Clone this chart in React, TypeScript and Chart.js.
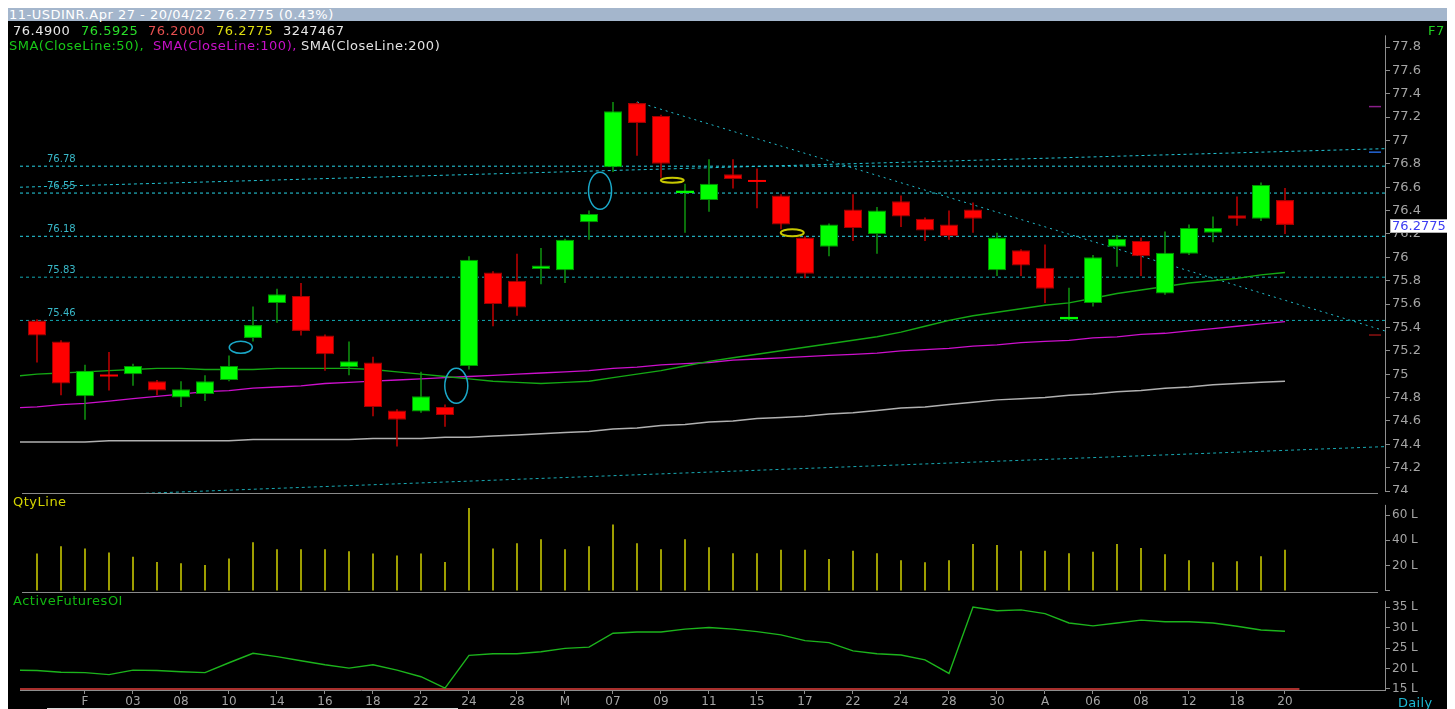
import React, { useEffect, useRef } from "react";
import { Chart, registerables } from "chart.js";

Chart.register(...registerables);

// ---------------- data ----------------
const candleOpen = [75.46, 75.28, 74.81, 74.99, 75.0, 74.94, 74.8, 74.83, 74.95, 75.31, 75.61, 75.67, 75.33, 75.06, 75.1, 74.69, 74.68, 74.72, 75.07, 75.87, 75.8, 75.9, 75.89, 76.3, 76.77, 77.32, 77.21, 76.55, 76.49, 76.71, 76.655, 76.53, 76.17, 76.09, 76.41, 76.2, 76.48, 76.33, 76.28, 76.41, 75.89, 76.06, 75.91, 75.47, 75.61, 76.09, 76.14, 75.69, 76.03, 76.21, 76.36, 76.33, 76.49];
const candleHigh = [75.47, 75.29, 75.08, 75.19, 75.09, 74.95, 74.94, 74.99, 75.16, 75.58, 75.73, 75.78, 75.34, 75.28, 75.15, 74.7, 75.02, 74.74, 76.01, 75.88, 76.03, 76.08, 76.16, 76.4, 77.33, 77.33, 77.22, 76.63, 76.84, 76.84, 76.76, 76.54, 76.18, 76.29, 76.54, 76.43, 76.53, 76.34, 76.4, 76.47, 76.21, 76.07, 76.11, 75.74, 76.02, 76.19, 76.17, 76.22, 76.28, 76.35, 76.52, 76.64, 76.5925];
const candleLow = [75.1, 74.82, 74.61, 74.86, 74.9, 74.82, 74.72, 74.77, 74.94, 75.28, 75.44, 75.33, 75.03, 74.99, 74.64, 74.38, 74.67, 74.55, 75.04, 75.41, 75.5, 75.77, 75.78, 76.15, 76.73, 76.87, 76.68, 76.21, 76.39, 76.59, 76.42, 76.24, 75.82, 76.01, 76.14, 76.03, 76.26, 76.14, 76.15, 76.21, 75.84, 75.84, 75.61, 75.46, 75.58, 75.92, 75.84, 75.68, 76.02, 76.13, 76.27, 76.31, 76.2];
const candleClose = [75.33, 74.92, 75.03, 74.98, 75.07, 74.86, 74.87, 74.94, 75.07, 75.42, 75.685, 75.37, 75.17, 75.11, 74.72, 74.61, 74.81, 74.65, 75.98, 75.6, 75.57, 75.93, 76.15, 76.37, 77.25, 77.15, 76.8, 76.57, 76.63, 76.67, 76.645, 76.28, 75.86, 76.28, 76.25, 76.4, 76.35, 76.23, 76.18, 76.33, 76.17, 75.93, 75.73, 75.49, 76.0, 76.16, 76.01, 76.04, 76.25, 76.25, 76.33, 76.62, 76.2775];

const volumeLakh = [29.6, 35.3, 33.5, 30.4, 27.0, 22.9, 22.0, 20.5, 25.7, 38.4, 33.0, 33.0, 33.0, 31.4, 29.6, 28.0, 29.6, 22.9, 65.5, 33.5, 37.7, 40.8, 33.0, 35.3, 52.5, 37.7, 33.0, 40.8, 34.5, 29.9, 29.9, 32.5, 32.5, 25.2, 31.7, 29.9, 24.2, 22.6, 24.2, 37.1, 36.4, 31.7, 31.7, 29.9, 30.9, 37.1, 34.0, 29.1, 24.2, 22.6, 23.4, 27.5, 32.5];

// line series start one session before the first visible candle
const lineStartIndex = -1;
const sma50 = [74.98, 75.0, 75.01, 75.02, 75.03, 75.04, 75.05, 75.05, 75.04, 75.04, 75.04, 75.05, 75.05, 75.05, 75.05, 75.04, 75.02, 75.0, 74.98, 74.96, 74.94, 74.93, 74.92, 74.93, 74.94, 74.97, 75.0, 75.03, 75.07, 75.11, 75.14, 75.17, 75.2, 75.23, 75.26, 75.29, 75.32, 75.36, 75.41, 75.46, 75.5, 75.53, 75.56, 75.59, 75.61, 75.65, 75.69, 75.72, 75.75, 75.78, 75.8, 75.82, 75.85, 75.87];
const sma100 = [74.71, 74.72, 74.74, 74.75, 74.77, 74.79, 74.81, 74.83, 74.85, 74.86, 74.88, 74.89, 74.9, 74.92, 74.93, 74.94, 74.95, 74.96, 74.97, 74.98, 74.99, 75.0, 75.01, 75.02, 75.03, 75.05, 75.06, 75.08, 75.09, 75.1, 75.12, 75.13, 75.14, 75.15, 75.16, 75.17, 75.18, 75.2, 75.21, 75.22, 75.24, 75.25, 75.27, 75.28, 75.29, 75.31, 75.32, 75.34, 75.35, 75.37, 75.39, 75.41, 75.43, 75.45];
const sma200 = [74.42, 74.42, 74.42, 74.42, 74.43, 74.43, 74.43, 74.43, 74.43, 74.43, 74.44, 74.44, 74.44, 74.44, 74.44, 74.45, 74.45, 74.45, 74.46, 74.46, 74.47, 74.48, 74.49, 74.5, 74.51, 74.53, 74.54, 74.56, 74.57, 74.59, 74.6, 74.62, 74.63, 74.64, 74.66, 74.67, 74.69, 74.71, 74.72, 74.74, 74.76, 74.78, 74.79, 74.8, 74.82, 74.83, 74.85, 74.86, 74.88, 74.89, 74.91, 74.92, 74.93, 74.94];
const futuresOI = [19.6, 19.5, 19.1, 19.0, 18.5, 19.6, 19.5, 19.2, 19.0, 21.4, 23.7, 22.9, 21.9, 20.9, 20.1, 20.9, 19.6, 18.0, 15.2, 23.2, 23.6, 23.6, 24.1, 24.9, 25.2, 28.6, 28.9, 28.9, 29.6, 30.0, 29.6, 29.0, 28.2, 26.8, 26.3, 24.3, 23.6, 23.3, 22.1, 18.8, 35.0, 34.1, 34.3, 33.4, 31.1, 30.4, 31.1, 31.8, 31.4, 31.4, 31.1, 30.3, 29.4, 29.1];

const xTickIndex = [2, 4, 6, 8, 10, 12, 14, 16, 18, 20, 22, 24, 26, 28, 30, 32, 34, 36, 38, 40, 42, 44, 46, 48, 50, 52];
const xTickLabels = ["F", "03", "08", "10", "14", "16", "18", "22", "24", "28", "M", "07", "09", "11", "15", "17", "22", "24", "28", "30", "A", "06", "08", "12", "18", "20"];
const priceTicks = [74, 74.2, 74.4, 74.6, 74.8, 75, 75.2, 75.4, 75.6, 75.8, 76, 76.2, 76.4, 76.6, 76.8, 77, 77.2, 77.4, 77.6, 77.8];
const volumeTicks = [0, 20, 40, 60];
const oiTicks = [15, 20, 25, 30, 35];

// drawn studies
const levelValues = [76.78, 76.55, 76.18, 75.83, 75.46];
const trendX = [25, 56.17];
const trendY = [77.33, 75.37];
const upperChannelX = [-0.71, 56.17];
const upperChannelY = [76.6, 76.93];
const lowerChannelX = [-0.71, 56.17];
const lowerChannelY = [73.94, 74.38];
const markerX = [8.49, 17.47, 23.46, 26.47, 31.47];
const markerY = [75.23, 74.9, 76.57, 76.66, 76.21];
const tagX = [55.5, 56.0];
const tagY = [77.29, 76.9, 75.335];
const oiBaseX = [-0.71, 52.6];
const oiBaseY = [15.0, 15.0];

// ---------------- styling / layout ----------------
const FONT = "DejaVu Sans";
const X_MIN = -0.70833;
const X_MAX = 56.16667;
const PRICE_MIN = 73.983;
const PRICE_MAX = 78.014;
const VOL_MIN = -0.79;
const VOL_MAX = 76.58;
const OI_MIN = 14.756;
const OI_MAX = 38.415;
const AXIS_W = 62;
const AXIS_COLOR = "#8e8e8e";
const TICK_COLOR = "#a4a4a4";
const markerRX = [11.5, 11.5, 11.5, 11.5, 11.5];
const markerRY = [6, 17.5, 18.5, 2.5, 3.5];
const markerColors = ["#1aa8c8", "#1aa8c8", "#1aa8c8", "#c8c800", "#c8c800"];
const markerWidths = [1.5, 1.5, 1.5, 2, 2];
const levelColors = ["#28d4e6", "#28d4e6", "#28d4e6", "#12a8b2", "#12a8b2"];
const tagColors = ["#8a1f8a", "#2466d8", "#8c1212"];

const idx = candleOpen.map((_, i) => i);
const lineX = sma50.map((_, i) => i + lineStartIndex);
const isUp = idx.map((i) => candleClose[i] >= candleOpen[i]);
const isDoji = idx.map((i) => Math.abs(candleClose[i] - candleOpen[i]) < 0.025);

function pts(xs: number[], ys: number[]) {
  return xs.map((x, i) => ({ x, y: ys[i] }));
}

function lineDs(data: any[], color: string, width: number, dash: number[], order: number) {
  return {
    type: "line",
    data,
    borderColor: color,
    borderWidth: width,
    borderDash: dash,
    pointRadius: 0,
    tension: 0,
    fill: false,
    order,
  };
}

function rightAxis(min: number, max: number, ticks: number[], fmt: (v: number) => string, size: number) {
  return {
    type: "linear",
    position: "right",
    min,
    max,
    afterBuildTicks: (s: any) => {
      s.ticks = ticks.map((v) => ({ value: v }));
    },
    afterFit: (s: any) => {
      s.width = AXIS_W;
      s.paddingTop = 0;
      s.paddingBottom = 0;
    },
    grid: { drawOnChartArea: false, drawTicks: true, tickLength: 5, color: AXIS_COLOR },
    border: { display: false },
    ticks: {
      color: TICK_COLOR,
      padding: 2,
      autoSkip: false,
      font: { family: FONT, size },
      callback: (v: any) => fmt(Number(v)),
    },
  };
}

const hiddenX = { type: "linear", min: X_MIN, max: X_MAX, display: false, offset: false };

function drawAxisLine(chart: any, top: number, bottom: number) {
  const { ctx, chartArea } = chart;
  ctx.save();
  ctx.strokeStyle = AXIS_COLOR;
  ctx.lineWidth = 1;
  const x = Math.round(chartArea.right) + 0.5;
  ctx.beginPath();
  ctx.moveTo(x, top);
  ctx.lineTo(x, bottom);
  ctx.stroke();
  ctx.restore();
}

const baseOptions = {
  responsive: false,
  maintainAspectRatio: false,
  animation: false,
  devicePixelRatio: 1,
  events: [],
  layout: { padding: { left: 12, right: 0, top: 0, bottom: 0 } },
  plugins: { legend: { display: false }, tooltip: { enabled: false } },
};

function priceConfig(): any {
  const decor = {
    id: "priceDecor",
    afterDatasetsDraw(chart: any) {
      const { ctx, chartArea } = chart;
      const xs = chart.scales.x;
      const ys = chart.scales.y;
      ctx.save();
      ctx.font = `10px "${FONT}"`;
      ctx.fillStyle = "#38b8c8";
      ctx.textAlign = "left";
      ctx.textBaseline = "alphabetic";
      levelValues.forEach((v) => {
        ctx.fillText(v.toFixed(2), chartArea.left + 27, Math.round(ys.getPixelForValue(v)) - 4);
      });
      markerX.forEach((x, i) => {
        ctx.beginPath();
        ctx.strokeStyle = markerColors[i];
        ctx.lineWidth = markerWidths[i];
        ctx.ellipse(xs.getPixelForValue(x), ys.getPixelForValue(markerY[i]), markerRX[i], markerRY[i], 0, 0, Math.PI * 2);
        ctx.stroke();
      });
      ctx.restore();
    },
    afterDraw(chart: any) {
      const ys = chart.scales.y;
      drawAxisLine(chart, ys.getPixelForValue(77.9), ys.getPixelForValue(74));
      const { ctx, chartArea, width } = chart;
      const last = candleClose[candleClose.length - 1];
      const cy = Math.round(ys.getPixelForValue(last)) + 1;
      const x0 = chartArea.right + 5;
      ctx.save();
      ctx.fillStyle = "#ffffff";
      ctx.fillRect(x0, cy - 7, width - x0, 14);
      ctx.strokeStyle = "#b4b4b4";
      ctx.lineWidth = 1;
      ctx.strokeRect(x0 + 0.5, cy - 6.5, width - x0, 13);
      ctx.fillStyle = "#3c3cf2";
      ctx.font = `13px "${FONT}"`;
      ctx.textBaseline = "middle";
      ctx.textAlign = "left";
      ctx.fillText(last.toFixed(4), x0 + 2, cy + 0.5);
      ctx.restore();
    },
  };

  const datasets: any[] = [];
  levelValues.forEach((v, i) => {
    datasets.push(lineDs(pts([X_MIN, X_MAX], [v, v]), levelColors[i], 1, [3, 3], 10));
  });
  datasets.push(lineDs(pts(upperChannelX, upperChannelY), "#22c2d2", 1, [3, 3], 10));
  datasets.push(lineDs(pts(lowerChannelX, lowerChannelY), "#18a8b2", 1, [3, 3], 10));
  datasets.push(lineDs(pts(trendX, trendY), "#22bccc", 1, [2, 4], 10));
  datasets.push(lineDs(pts(lineX, sma200), "#b0b0b0", 1.5, [], 8));
  datasets.push(lineDs(pts(lineX, sma100), "#cc10cc", 1.3, [], 7));
  datasets.push(lineDs(pts(lineX, sma50), "#14a814", 1.4, [], 6));
  tagY.forEach((v, i) => {
    datasets.push(lineDs(pts(tagX, [v, v]), tagColors[i], 1.5, [], 5));
  });
  datasets.push({
    type: "bar",
    data: idx.map((i) => ({ x: i, y: [candleLow[i], candleHigh[i]] })),
    backgroundColor: idx.map((i) => (isUp[i] ? "#10a010" : "#d00000")),
    borderWidth: 0,
    barThickness: 1.4,
    grouped: false,
    inflateAmount: 0,
    order: 2,
  });
  datasets.push({
    type: "bar",
    data: idx.map((i) => ({ x: i, y: [candleOpen[i], candleClose[i]] })),
    backgroundColor: idx.map((i) => (isUp[i] ? "#00ff00" : "#ff0000")),
    borderColor: idx.map((i) => (isUp[i] ? "#009400" : "#a00000")),
    borderWidth: idx.map((i) => (isDoji[i] ? 0 : 1)),
    borderSkipped: false,
    barThickness: 18,
    minBarLength: 2,
    grouped: false,
    inflateAmount: 0,
    order: 1,
  });

  return {
    type: "line",
    data: { datasets },
    options: {
      ...baseOptions,
      scales: {
        x: hiddenX,
        y: rightAxis(PRICE_MIN, PRICE_MAX, priceTicks, (v) => `${Math.round(v * 10) / 10}`, 13),
      },
    },
    plugins: [decor],
  };
}

function volumeConfig(): any {
  const decor = {
    id: "volDecor",
    afterDraw(chart: any) {
      const ys = chart.scales.y;
      drawAxisLine(chart, ys.getPixelForValue(68), ys.getPixelForValue(0));
    },
  };
  return {
    type: "line",
    data: {
      datasets: [
        {
          type: "bar",
          data: idx.map((i) => ({ x: i, y: volumeLakh[i] })),
          backgroundColor: "#e2e200",
          borderWidth: 0,
          barThickness: 1.4,
          grouped: false,
          inflateAmount: 0,
        },
      ],
    },
    options: {
      ...baseOptions,
      scales: {
        x: hiddenX,
        y: rightAxis(VOL_MIN, VOL_MAX, volumeTicks, (v) => (v === 0 ? "" : `${v} L`), 12),
      },
    },
    plugins: [decor],
  };
}

function oiConfig(): any {
  const decor = {
    id: "oiDecor",
    afterDraw(chart: any) {
      const ys = chart.scales.y;
      drawAxisLine(chart, ys.getPixelForValue(36.5), chart.chartArea.bottom);
    },
  };
  return {
    type: "line",
    data: {
      datasets: [
        lineDs(pts(oiBaseX, oiBaseY), "#e0403c", 1.6, [], 2),
        lineDs(pts(lineX, futuresOI), "#1cb41c", 1.4, [], 1),
      ],
    },
    options: {
      ...baseOptions,
      scales: {
        x: {
          type: "linear",
          min: X_MIN,
          max: X_MAX,
          offset: false,
          position: "bottom",
          afterBuildTicks: (s: any) => {
            s.ticks = xTickIndex.map((v) => ({ value: v }));
          },
          afterFit: (s: any) => {
            s.height = 19;
            s.paddingLeft = 0;
            s.paddingRight = 0;
          },
          grid: { drawOnChartArea: false, drawTicks: true, tickLength: 4, color: AXIS_COLOR },
          border: { display: true, color: AXIS_COLOR },
          ticks: {
            color: TICK_COLOR,
            padding: 1,
            autoSkip: false,
            maxRotation: 0,
            font: { family: FONT, size: 12 },
            callback: (v: any) => {
              const k = xTickIndex.indexOf(Number(v));
              return k >= 0 ? xTickLabels[k] : "";
            },
          },
        },
        y: rightAxis(OI_MIN, OI_MAX, oiTicks, (v) => `${v} L`, 12),
      },
    },
    plugins: [decor],
  };
}

const txt = (extra: React.CSSProperties): React.CSSProperties => ({
  position: "absolute",
  fontFamily: `"${FONT}", sans-serif`,
  fontSize: 13,
  lineHeight: "13px",
  letterSpacing: "0.5px",
  whiteSpace: "nowrap",
  ...extra,
});

export default function App() {
  const priceRef = useRef<HTMLCanvasElement>(null);
  const volRef = useRef<HTMLCanvasElement>(null);
  const oiRef = useRef<HTMLCanvasElement>(null);

  useEffect(() => {
    const charts = [
      new Chart(priceRef.current as HTMLCanvasElement, priceConfig()),
      new Chart(volRef.current as HTMLCanvasElement, volumeConfig()),
      new Chart(oiRef.current as HTMLCanvasElement, oiConfig()),
    ];
    return () => charts.forEach((c) => c.destroy());
  }, []);

  const canvasStyle = (top: number): React.CSSProperties => ({ position: "absolute", left: 0, top, display: "block" });

  return (
    <div style={{ position: "relative", width: 1439, height: 701, background: "#000", overflow: "hidden" }}>
      <div style={txt({ left: 0, top: 0, width: 1439, height: 13, background: "#a4b6cc", color: "#ffffff", paddingLeft: 1 })}>
        11-USDINR.Apr 27 - 20/04/22 76.2775 (0.43%)
      </div>
      <canvas ref={priceRef} width={1439} height={471} style={canvasStyle(14)} />
      <canvas ref={volRef} width={1439} height={98} style={canvasStyle(486)} />
      <canvas ref={oiRef} width={1439} height={116} style={canvasStyle(585)} />

      <span style={txt({ left: 5, top: 16, color: "#e6e6e6" })}>76.4900</span>
      <span style={txt({ left: 73, top: 16, color: "#2ade2a" })}>76.5925</span>
      <span style={txt({ left: 140, top: 16, color: "#e65050" })}>76.2000</span>
      <span style={txt({ left: 208, top: 16, color: "#dede10" })}>76.2775</span>
      <span style={txt({ left: 275, top: 16, color: "#e6e6e6" })}>3247467</span>

      <span style={txt({ left: 1, top: 31, color: "#18c818" })}>SMA(CloseLine:50),</span>
      <span style={txt({ left: 145, top: 31, color: "#c810c8" })}>SMA(CloseLine:100),</span>
      <span style={txt({ left: 293, top: 31, color: "#e2e2e2" })}>SMA(CloseLine:200)</span>
      <span style={txt({ left: 1420, top: 16, color: "#20d020" })}>F7</span>

      <div style={{ position: "absolute", left: 14, top: 485, width: 1356, height: 1, background: "#8a8a8a" }} />
      <div style={{ position: "absolute", left: 14, top: 584, width: 1356, height: 1, background: "#8a8a8a" }} />

      <span style={txt({ left: 5, top: 487, color: "#d4d400" })}>QtyLine</span>
      <span style={txt({ left: 5, top: 586, color: "#12b812" })}>ActiveFuturesOI</span>
      <span style={txt({ left: 1390, top: 688, color: "#1cb8d2", letterSpacing: "0.3px" })}>Daily</span>
      <div style={{ position: "absolute", left: 39, top: 700, width: 411, height: 1, background: "#d8d8d8" }} />
    </div>
  );
}
